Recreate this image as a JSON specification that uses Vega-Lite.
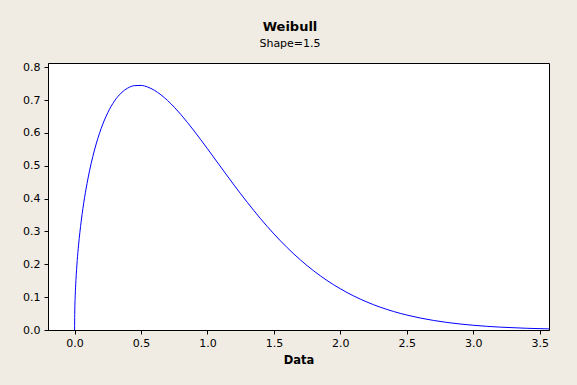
{
"$schema": "https://vega.github.io/schema/vega-lite/v6.json",
"width": 501,
"height": 267,
"autosize": "none",
"padding": {"left": 48, "top": 63, "right": 28, "bottom": 55},
"background": "#F0ECE3",
"title": {"text": "Weibull", "subtitle": "Shape=1.5", "font": "DejaVu Sans", "fontSize": 13, "fontWeight": "bold", "subtitleFont": "DejaVu Sans", "subtitleFontSize": 11, "color": "#000000", "subtitleColor": "#000000", "anchor": "middle", "dx": -8.5, "offset": 12, "subtitlePadding": 4},
"data": {"values": [
{"x": 0, "y": 0},
{"x": 0.001, "y": 0.0474},
{"x": 0.005, "y": 0.10603},
{"x": 0.01, "y": 0.14985},
{"x": 0.02, "y": 0.21153},
{"x": 0.03, "y": 0.25846},
{"x": 0.05, "y": 0.33168},
{"x": 0.075, "y": 0.40244},
{"x": 0.1, "y": 0.45958},
{"x": 0.15, "y": 0.54816},
{"x": 0.2, "y": 0.61342},
{"x": 0.25, "y": 0.66187},
{"x": 0.3, "y": 0.69709},
{"x": 0.35, "y": 0.72141},
{"x": 0.4, "y": 0.73662},
{"x": 0.45, "y": 0.74403},
{"x": 0.5, "y": 0.74479},
{"x": 0.55, "y": 0.73983},
{"x": 0.6, "y": 0.73001},
{"x": 0.65, "y": 0.71607},
{"x": 0.7, "y": 0.69873},
{"x": 0.75, "y": 0.67846},
{"x": 0.8, "y": 0.65598},
{"x": 0.9, "y": 0.60591},
{"x": 1.0, "y": 0.55182},
{"x": 1.1, "y": 0.49634},
{"x": 1.2, "y": 0.44136},
{"x": 1.3, "y": 0.38847},
{"x": 1.4, "y": 0.33862},
{"x": 1.5, "y": 0.2926},
{"x": 1.6, "y": 0.25072},
{"x": 1.7, "y": 0.21316},
{"x": 1.8, "y": 0.17985},
{"x": 1.9, "y": 0.15069},
{"x": 2.0, "y": 0.12543},
{"x": 2.2, "y": 0.08517},
{"x": 2.4, "y": 0.05642},
{"x": 2.5, "y": 0.04554},
{"x": 2.6, "y": 0.03655},
{"x": 2.8, "y": 0.02316},
{"x": 3.0, "y": 0.0144},
{"x": 3.2, "y": 0.00876},
{"x": 3.4, "y": 0.00524},
{"x": 3.57, "y": 0.00335}
]},
"mark": {"type": "line", "color": "#0000FF", "strokeWidth": 1, "interpolate": "monotone", "clip": true},
"encoding": {
"x": {"field": "x", "type": "quantitative",
"scale": {"domain": [-0.2, 3.57], "nice": false, "zero": false},
"axis": {"values": [0, 0.5, 1, 1.5, 2, 2.5, 3, 3.5], "format": ".1f", "title": "Data", "labelPadding": 3, "titlePadding": 6}},
"y": {"field": "y", "type": "quantitative",
"scale": {"domain": [0, 0.813], "nice": false},
"axis": {"values": [0, 0.1, 0.2, 0.3, 0.4, 0.5, 0.6, 0.7, 0.8], "format": ".1f", "title": null, "labelPadding": 4}}
},
"config": {
"view": {"stroke": "#000000", "strokeWidth": 1, "fill": "#FFFFFF"},
"axis": {"grid": false, "domainColor": "#000000", "tickColor": "#000000", "labelColor": "#000000", "titleColor": "#000000", "labelFont": "DejaVu Sans", "labelFontSize": 11, "titleFont": "DejaVu Sans", "titleFontSize": 11.5, "titleFontWeight": "bold", "tickSize": 4, "labelFlush": false, "labelOverlap": false}
}
}
